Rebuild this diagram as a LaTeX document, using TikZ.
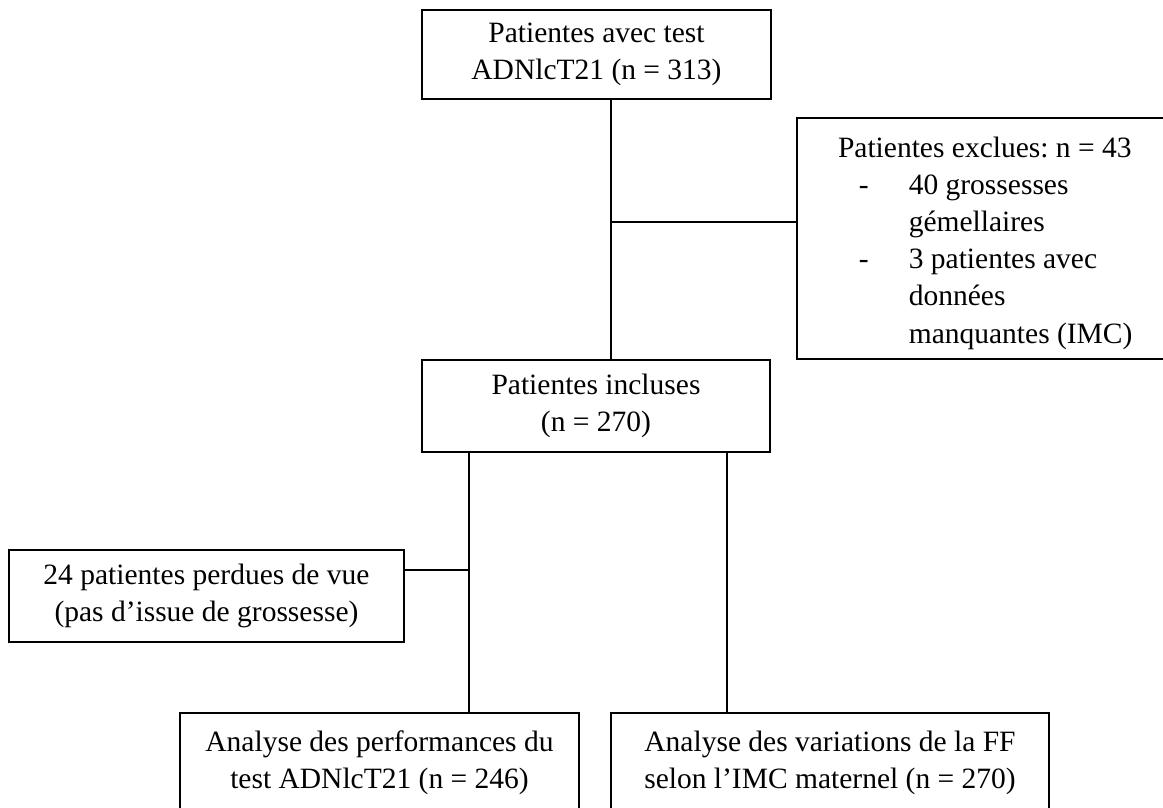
\documentclass[tikz,border=0pt]{standalone}
\usepackage{fontspec}
\setmainfont{Liberation Serif}
\frenchspacing

\begin{document}
\begin{tikzpicture}[x=1pt, y=-1pt,
  box/.style={draw, line width=1.6pt, inner sep=0pt, align=center,
    font=\fontsize{29.5}{37.2}\selectfont,
    execute at begin node={\rule{0pt}{30pt}}},
  link/.style={line width=1.6pt}
]
\useasboundingbox (0,0) rectangle (1163,808);

% boxes
\node[box, minimum width=349pt, minimum height=89pt] (test) at (596.5,54.5) {Patientes avec test\\ADNlcT21 (n = 313)};
\node[box, anchor=north west, align=flush left, text width=376pt, minimum height=241pt] (excl) at (796,117) {%
\makebox[376pt][c]{Patientes exclues: n = 43}\\
\makebox[112pt][r]{-\hspace{40pt}}40 grossesses\\
\hspace*{112pt}gémellaires\\
\makebox[112pt][r]{-\hspace{40pt}}3 patientes avec\\
\hspace*{112pt}données\\
\hspace*{112pt}manquantes (IMC)};
\node[box, minimum width=348pt, minimum height=92pt] (incl) at (596,406) {Patientes incluses\\(n = 270)};
\node[box, minimum width=395pt, minimum height=92pt] (lost) at (206.5,596) {24 patientes perdues de vue\\(pas d’issue de grossesse)};
\node[box, minimum width=399pt, minimum height=99pt] (perf) at (379.5,762.5) {Analyse des performances du\\test ADNlcT21 (n = 246)};
\node[box, minimum width=438pt, minimum height=99pt] (ffvar) at (830,762.5) {Analyse des variations de la FF\\selon l’IMC maternel (n = 270)};

% connectors
\coordinate (tdown) at ([xshift=14.5pt]test.south);
\draw[link] (tdown) -- (tdown |- incl.north);
\coordinate (split1) at (611,222);
\draw[link] (split1) -- (split1 -| excl.west);

\coordinate (inclL) at ([xshift=-127pt]incl.south);
\coordinate (inclR) at ([xshift=131pt]incl.south);
\draw[link] (inclL) -- (inclL |- perf.north);
\draw[link] (inclR) -- (inclR |- ffvar.north);
\coordinate (split2) at (469,570);
\draw[link] (split2) -- (split2 -| lost.east);
\end{tikzpicture}
\end{document}
